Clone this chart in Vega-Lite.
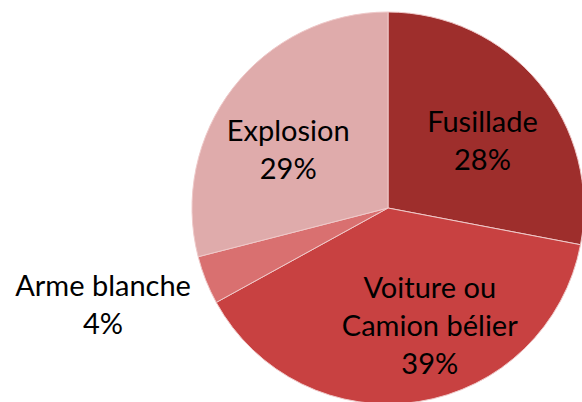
{
  "$schema": "https://vega.github.io/schema/vega-lite/v6.json",
  "width": 392,
  "height": 392,
  "autosize": "none",
  "padding": {"left": 192, "top": 12, "right": 0, "bottom": 0},
  "background": "white",
  "config": {"view": {"stroke": null}},
  "data": {
    "values": [
      {"i": 1, "cat": "Fusillade", "name": "Fusillade", "pct": 28},
      {"i": 2, "cat": "Voiture ou Camion bélier", "name": "Voiture ou\nCamion bélier", "pct": 39},
      {"i": 3, "cat": "Arme blanche", "name": "Arme blanche", "pct": 4},
      {"i": 4, "cat": "Explosion", "name": "Explosion", "pct": 29}
    ]
  },
  "transform": [{"calculate": "datum.name + '\\n' + datum.pct + '%'", "as": "label"}],
  "encoding": {
    "theta": {"field": "pct", "type": "quantitative", "stack": true},
    "order": {"field": "i", "type": "quantitative"}
  },
  "layer": [
    {
      "mark": {"type": "arc", "stroke": "#efc9c9", "strokeWidth": 1},
      "encoding": {
        "color": {
          "field": "cat",
          "type": "nominal",
          "legend": null,
          "scale": {
            "domain": ["Fusillade", "Voiture ou Camion bélier", "Arme blanche", "Explosion"],
            "range": ["#9e2e2c", "#c84141", "#d97070", "#dfabab"]
          }
        }
      }
    },
    {
      "mark": {"type": "text", "radius": 120, "dx": 2, "dy": -9, "font": "Lato", "fontSize": 29, "lineBreak": "\n", "lineHeight": 38, "color": "black"},
      "encoding": {"text": {"condition": {"test": "datum.i == 1", "field": "label"}, "value": ""}}
    },
    {
      "mark": {"type": "text", "radius": 120, "dx": 23, "dy": -38, "font": "Lato", "fontSize": 29, "lineBreak": "\n", "lineHeight": 38, "color": "black"},
      "encoding": {"text": {"condition": {"test": "datum.i == 2", "field": "label"}, "value": ""}}
    },
    {
      "mark": {"type": "text", "radius": 300, "dx": -6, "dy": -31, "font": "Lato", "fontSize": 29, "lineBreak": "\n", "lineHeight": 38, "color": "black"},
      "encoding": {"text": {"condition": {"test": "datum.i == 3", "field": "label"}, "value": ""}}
    },
    {
      "mark": {"type": "text", "radius": 120, "dx": -5, "dy": -2, "font": "Lato", "fontSize": 29, "lineBreak": "\n", "lineHeight": 38, "color": "black"},
      "encoding": {"text": {"condition": {"test": "datum.i == 4", "field": "label"}, "value": ""}}
    }
  ]
}
